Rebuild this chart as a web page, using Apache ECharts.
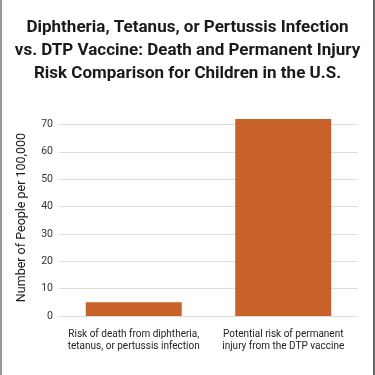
<!DOCTYPE html>
<html>
<head>
<meta charset="utf-8">
<script src="https://cdn.jsdelivr.net/npm/echarts@6/dist/echarts.min.js"></script>
<style>
    html, body {margin: 0; padding: 0; background: #fff;}
    #wrap {position: relative; width: 375px; height: 375px;}
    #chart {width: 375px; height: 375px;}
    #frame {position: absolute; left: 0; top: 0; width: 375px; height: 375px; box-sizing: border-box;
        border-left: 2px solid #999; border-right: 2px solid #666; pointer-events: none;}
</style>
</head>
<body>
<div id="wrap">
    <div id="chart"></div>
    <div id="frame"></div>
</div>
<script>
var categories = [
    'Risk of death from diphtheria,\ntetanus, or pertussis infection',
    'Potential risk of permanent\ninjury from the DTP vaccine'
];
var values = [5, 72];
var titleText = 'Diphtheria, Tetanus, or Pertussis Infection\nvs. DTP Vaccine: Death and Permanent Injury\nRisk Comparison for Children in the U.S.';
var yName = 'Number of People per 100,000';

var myChart = echarts.init(document.getElementById('chart'));
var option = {
    animation: false,
    textStyle: {fontFamily: 'Roboto'},
    title: {
        text: titleText,
        left: 'center',
        top: 11,
        textStyle: {fontSize: 17, fontWeight: 'bold', color: '#1a1a1a', lineHeight: 23, fontFamily: 'Roboto'}
    },
    grid: {left: 59, right: 17, top: 119, bottom: 59},
    xAxis: {
        type: 'category',
        data: categories,
        axisLine: {show: false},
        axisTick: {show: false},
        axisLabel: {color: '#222', fontSize: 10, lineHeight: 12, margin: 12, interval: 0}
    },
    yAxis: {
        type: 'value',
        min: 0,
        max: 72,
        interval: 10,
        name: yName,
        nameLocation: 'middle',
        nameGap: 31,
        nameTextStyle: {color: '#1a1a1a', fontSize: 12.5},
        axisLine: {show: false},
        axisTick: {show: false},
        axisLabel: {
            color: '#333', fontSize: 10.5, margin: 6,
            formatter: function (v) { return v % 10 === 0 ? v : ''; }
        },
        splitLine: {lineStyle: {color: ['#ddd', '#ddd', '#ddd', '#ddd', '#ddd', '#ddd', '#ddd', '#ddd', 'transparent']}}
    },
    series: [{
        type: 'bar',
        data: values,
        barWidth: 96,
        itemStyle: {color: '#C8612A'}
    }]
};
myChart.setOption(option);
</script>
</body>
</html>
